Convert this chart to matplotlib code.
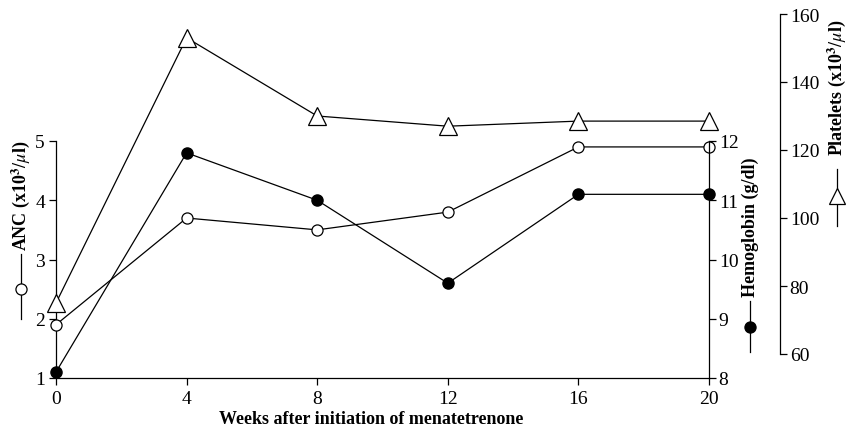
import matplotlib

matplotlib.use("Agg")
import matplotlib.pyplot as plt
from matplotlib.lines import Line2D

plt.rcParams["font.family"] = ["Liberation Serif", "DejaVu Serif"]
plt.rcParams["mathtext.fontset"] = "stix"

# ── data ─────────────────────────────────────────────────────────────────────
weeks = [0, 4, 8, 12, 16, 20]
anc = [1.9, 3.7, 3.5, 3.8, 4.9, 4.9]            # x10^3/ul
hemoglobin = [8.1, 11.8, 11.0, 9.6, 11.1, 11.1]  # g/dl
platelets = [75, 153, 130, 127, 128.5, 128.5]    # x10^3/ul

W, H = 854, 439
fig = plt.figure(figsize=(W / 100, H / 100), dpi=100)


def fx(px):
    return px / W


def fy(py):
    return 1 - py / H


# pixel geometry of the original
X0, X1 = 56, 709          # week 0 / week 20
ANC_TOP, ANC_BOT = 142, 379
PLT_TOP, PLT_BOT = 15, 355
PLT_SPINE = 780

LW = 0.9
FS = 14

# ANC axes (left)
ax = fig.add_axes([fx(X0), fy(ANC_BOT), fx(X1 - X0), (ANC_BOT - ANC_TOP) / H])
ax.set_xlim(0, 20)
ax.set_ylim(1, 5)
ax.set_xticks(weeks)
ax.set_yticks([1, 2, 3, 4, 5])
for s in ("top", "right"):
    ax.spines[s].set_visible(False)
for s in ("left", "bottom"):
    ax.spines[s].set_linewidth(LW)
ax.tick_params(axis="x", direction="out", length=5, width=LW, labelsize=FS, pad=4)
ax.tick_params(axis="y", direction="out", length=5, width=LW, labelsize=FS, pad=3)
ax.patch.set_visible(False)

# Hemoglobin axes (inner right)
axh = ax.twinx()
axh.set_ylim(8, 12)
axh.set_yticks([8, 9, 10, 11, 12])
for s in ("top", "left", "bottom"):
    axh.spines[s].set_visible(False)
axh.spines["right"].set_linewidth(LW)
axh.tick_params(axis="y", direction="out", length=5, width=LW, labelsize=FS, pad=2)

# Platelets axes (outer right, taller)
axp = fig.add_axes([fx(X0), fy(PLT_BOT), fx(X1 - X0), (PLT_BOT - PLT_TOP) / H])
axp.set_xlim(0, 20)
axp.set_ylim(60, 160)
axp.patch.set_visible(False)
axp.set_xticks([])
for s in ("top", "left", "bottom"):
    axp.spines[s].set_visible(False)
axp.yaxis.tick_right()
axp.spines["right"].set_position(("axes", (PLT_SPINE - X0) / (X1 - X0)))
axp.spines["right"].set_linewidth(LW)
axp.set_yticks([60, 80, 100, 120, 140, 160])
axp.tick_params(axis="y", direction="out", length=5, width=LW, labelsize=FS, pad=2)

# series
axp.plot(weeks, platelets, color="black", lw=LW, marker="^", ms=13,
         mfc="white", mec="black", mew=LW, clip_on=False, zorder=3)
axh.plot(weeks, hemoglobin, color="black", lw=LW, marker="o", ms=8,
         mfc="black", mec="black", clip_on=False, zorder=3)
ax.plot(weeks, anc, color="black", lw=LW, marker="o", ms=8,
        mfc="white", mec="black", mew=LW, clip_on=False, zorder=4)

# x label
fig.text(fx(371), fy(420), "Weeks after initiation of menatetrenone",
         ha="center", va="center", fontsize=13, fontweight="bold")


def axis_label(x, text_mid, text, sym_top, sym_bot, sym_mid, marker, mfc, ms):
    fig.text(fx(x), fy(text_mid), text, rotation=90, ha="center", va="center",
             fontsize=13, fontweight="bold")
    fig.add_artist(Line2D([fx(x), fx(x)], [fy(sym_top), fy(sym_bot)],
                          color="black", lw=LW, transform=fig.transFigure))
    fig.add_artist(Line2D([fx(x)], [fy(sym_mid)], marker=marker, ms=ms,
                          mfc=mfc, mec="black", mew=LW, color="black",
                          transform=fig.transFigure))


axis_label(21, 196, r"ANC (x10$^{\mathbf{3}}$/$\mu$l)", 255, 320, 290, "o", "white", 8)
axis_label(750, 227, "Hemoglobin (g/dl)", 302, 353, 328, "o", "black", 8)
axis_label(837, 88, r"Platelets (x10$^{\mathbf{3}}$/$\mu$l)", 170, 227, 197, "^", "white", 12)

fig.savefig("out.png", dpi=100, facecolor="white")
